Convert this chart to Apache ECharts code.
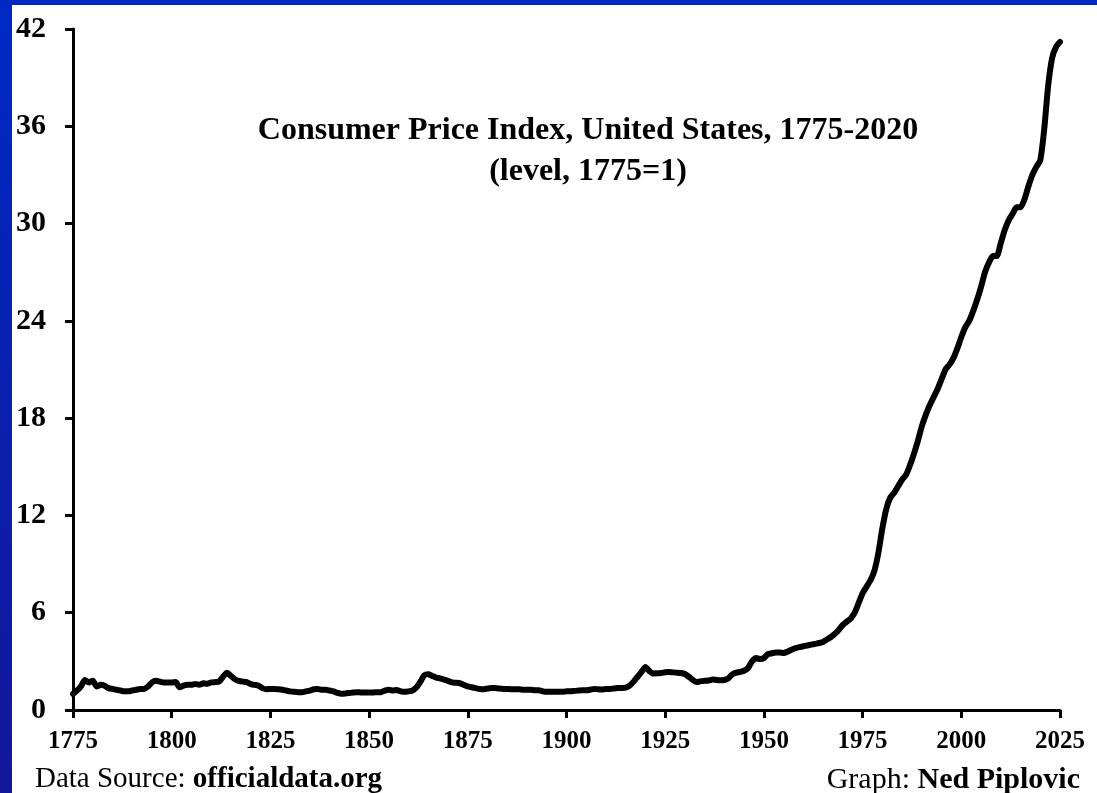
<!DOCTYPE html>
<html>
<head>
<meta charset="utf-8">
<script src="https://cdn.jsdelivr.net/npm/echarts@6/dist/echarts.min.js"></script>
<style>
  html, body { margin: 0; padding: 0; width: 1097px; height: 793px; overflow: hidden; }
  body { background: linear-gradient(to bottom, #0029c4, #13179a); }
  #cpiChart { position: absolute; left: 12px; top: 5px; width: 1085px; height: 788px; background: #fff; }
</style>
</head>
<body>
<div id="cpiChart"></div>
<script>
// CPI level, 1775 = 1
var years = [
  1775, 1776, 1777, 1778, 1779, 1780, 1781, 1782, 1783, 1784, 1785, 1786, 1787, 1788, 1789,
  1790, 1791, 1792, 1793, 1794, 1795, 1796, 1797, 1798, 1799, 1800, 1801, 1802, 1803, 1804,
  1805, 1806, 1807, 1808, 1809, 1810, 1811, 1812, 1813, 1814, 1815, 1816, 1817, 1818, 1819,
  1820, 1821, 1822, 1823, 1824, 1825, 1826, 1827, 1828, 1829, 1830, 1831, 1832, 1833, 1834,
  1835, 1836, 1837, 1838, 1839, 1840, 1841, 1842, 1843, 1844, 1845, 1846, 1847, 1848, 1849,
  1850, 1851, 1852, 1853, 1854, 1855, 1856, 1857, 1858, 1859, 1860, 1861, 1862, 1863, 1864,
  1865, 1866, 1867, 1868, 1869, 1870, 1871, 1872, 1873, 1874, 1875, 1876, 1877, 1878, 1879,
  1880, 1881, 1882, 1883, 1884, 1885, 1886, 1887, 1888, 1889, 1890, 1891, 1892, 1893, 1894,
  1895, 1896, 1897, 1898, 1899, 1900, 1901, 1902, 1903, 1904, 1905, 1906, 1907, 1908, 1909,
  1910, 1911, 1912, 1913, 1914, 1915, 1916, 1917, 1918, 1919, 1920, 1921, 1922, 1923, 1924,
  1925, 1926, 1927, 1928, 1929, 1930, 1931, 1932, 1933, 1934, 1935, 1936, 1937, 1938, 1939,
  1940, 1941, 1942, 1943, 1944, 1945, 1946, 1947, 1948, 1949, 1950, 1951, 1952, 1953, 1954,
  1955, 1956, 1957, 1958, 1959, 1960, 1961, 1962, 1963, 1964, 1965, 1966, 1967, 1968, 1969,
  1970, 1971, 1972, 1973, 1974, 1975, 1976, 1977, 1978, 1979, 1980, 1981, 1982, 1983, 1984,
  1985, 1986, 1987, 1988, 1989, 1990, 1991, 1992, 1993, 1994, 1995, 1996, 1997, 1998, 1999,
  2000, 2001, 2002, 2003, 2004, 2005, 2006, 2007, 2008, 2009, 2010, 2011, 2012, 2013, 2014,
  2015, 2016, 2017, 2018, 2019, 2020, 2021, 2022, 2023, 2024, 2025
];
var cpiLevel = [
  1.0, 1.2, 1.45, 1.85, 1.7, 1.8, 1.45, 1.55, 1.5, 1.35, 1.3, 1.25, 1.2, 1.15, 1.15,
  1.2, 1.25, 1.3, 1.3, 1.45, 1.7, 1.8, 1.75, 1.7, 1.7, 1.7, 1.72, 1.4, 1.5, 1.55,
  1.55, 1.6, 1.55, 1.65, 1.62, 1.7, 1.72, 1.75, 2.05, 2.3, 2.1, 1.9, 1.8, 1.75, 1.72,
  1.6, 1.55, 1.5, 1.35, 1.28, 1.3, 1.3, 1.28, 1.25, 1.2, 1.15, 1.12, 1.1, 1.1, 1.15,
  1.2, 1.28, 1.3, 1.25, 1.25, 1.2, 1.15, 1.05, 1.0, 1.02, 1.05, 1.08, 1.1, 1.08, 1.08,
  1.08, 1.08, 1.1, 1.1, 1.2, 1.25, 1.2, 1.23, 1.15, 1.12, 1.15, 1.2, 1.4, 1.75, 2.15,
  2.2, 2.1, 2.0, 1.95, 1.88, 1.8, 1.7, 1.68, 1.65, 1.55, 1.45, 1.4, 1.35, 1.3, 1.28,
  1.32, 1.35, 1.35, 1.32, 1.3, 1.3, 1.28, 1.28, 1.28, 1.25, 1.25, 1.25, 1.22, 1.22, 1.15,
  1.12, 1.12, 1.12, 1.12, 1.12, 1.15, 1.15, 1.18, 1.2, 1.22, 1.22, 1.25, 1.3, 1.28, 1.27,
  1.3, 1.3, 1.33, 1.35, 1.36, 1.38, 1.5, 1.75, 2.05, 2.35, 2.65, 2.4, 2.25, 2.27, 2.28,
  2.33, 2.35, 2.32, 2.3, 2.28, 2.22, 2.05, 1.85, 1.72, 1.78, 1.8, 1.82, 1.88, 1.85, 1.83,
  1.85, 1.95, 2.2, 2.3, 2.35, 2.42, 2.6, 3.0, 3.2, 3.15, 3.2, 3.45, 3.5, 3.55, 3.55,
  3.52, 3.6, 3.72, 3.82, 3.88, 3.93, 3.98, 4.03, 4.08, 4.13, 4.2, 4.35, 4.5, 4.7, 4.95,
  5.25, 5.45, 5.65, 6.0, 6.6, 7.2, 7.6, 8.0, 8.6, 9.7, 11.2, 12.4, 13.1, 13.4, 13.8,
  14.2, 14.5, 15.1, 15.8, 16.6, 17.5, 18.2, 18.8, 19.3, 19.8, 20.4, 21.0, 21.3, 21.7, 22.3,
  23.0, 23.6, 24.0, 24.6, 25.3, 26.1, 27.0, 27.6, 28.0, 28.0, 28.8, 29.6, 30.2, 30.6, 31.0,
  31.0, 31.5, 32.3, 33.0, 33.5, 33.9, 35.8, 38.5, 40.2, 40.9, 41.2
];
var xTicks = [1775, 2025, 25];  // min, max, step
var yTicks = [0, 42, 6];

var serif = '"Liberation Serif", "Times New Roman", serif';

var chart = echarts.init(document.getElementById('cpiChart'));

var option = {
  animation: false,
  backgroundColor: '#fff',
  title: {
    text: 'Consumer Price Index, United States, 1775-2020\n(level, 1775=1)',
    left: 571,
    top: 100,
    textAlign: 'center',
    textStyle: {
      fontFamily: serif,
      fontWeight: 'bold',
      fontSize: 32,
      lineHeight: 41,
      color: '#000'
    }
  },
  grid: {
    left: 61,
    right: 37,
    top: 24,
    bottom: 83
  },
  xAxis: {
    type: 'value',
    min: xTicks[0],
    max: xTicks[1],
    interval: xTicks[2],
    splitLine: { show: false },
    axisLine: { lineStyle: { color: '#000', width: 3 } },
    axisTick: { length: 8, lineStyle: { color: '#000', width: 3 } },
    axisLabel: {
      margin: 19,
      color: '#000',
      fontFamily: serif,
      fontWeight: 'bold',
      fontSize: 25,
      formatter: function (v) { return v; }
    }
  },
  yAxis: {
    type: 'value',
    min: yTicks[0],
    max: yTicks[1],
    interval: yTicks[2],
    splitLine: { show: false },
    axisLine: { show: true, lineStyle: { color: '#000', width: 3 } },
    axisTick: { show: true, length: 8, lineStyle: { color: '#000', width: 3 } },
    axisLabel: {
      margin: 27,
      color: '#000',
      fontFamily: serif,
      fontWeight: 'bold',
      fontSize: 30
    }
  },
  series: [{
    type: 'line',
    data: years.map(function (y, i) { return [y, cpiLevel[i]]; }),
    showSymbol: false,
    smooth: 0.2,
    lineStyle: { color: '#000', width: 6, cap: 'round', join: 'round' }
  }],
  graphic: [
    {
      type: 'text',
      left: 23,
      top: 760,
      style: {
        text: '{n|Data Source: }{b|officialdata.org}',
        rich: {
          n: { fontFamily: serif, fontSize: 29, fill: '#000' },
          b: { fontFamily: serif, fontSize: 29, fontWeight: 'bold', fill: '#000' }
        }
      }
    },
    {
      type: 'text',
      right: 17,
      top: 760,
      style: {
        text: '{n|Graph: }{b|Ned Piplovic}',
        rich: {
          n: { fontFamily: serif, fontSize: 30, fill: '#000' },
          b: { fontFamily: serif, fontSize: 30, fontWeight: 'bold', fill: '#000' }
        }
      }
    }
  ]
};

chart.setOption(option);
</script>
</body>
</html>
